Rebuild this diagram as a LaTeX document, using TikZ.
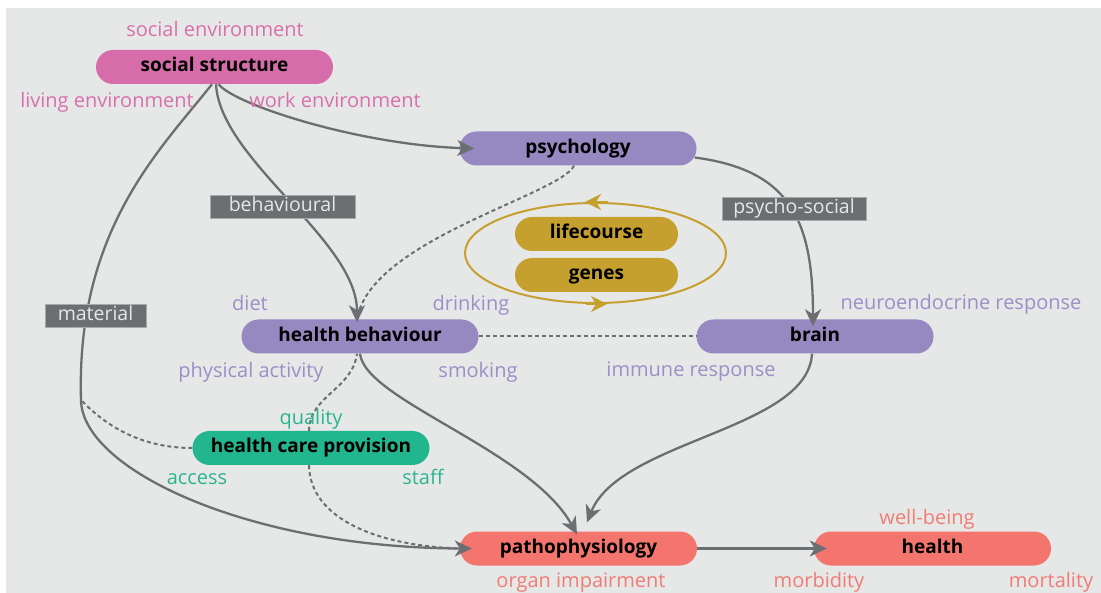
\documentclass[tikz,border=0pt]{standalone}
\usepackage{fontspec}
\setmainfont{Open Sans}
\usetikzlibrary{arrows.meta,shapes.geometric}
\definecolor{bg}{HTML}{E6E7E7}
\definecolor{pk}{HTML}{D66CAA}
\definecolor{pkt}{HTML}{D870AC}
\definecolor{pu}{HTML}{9689C2}
\definecolor{put}{HTML}{9C8FC7}
\definecolor{gd}{HTML}{C6A02E}
\definecolor{gn}{HTML}{22B68E}
\definecolor{gnt}{HTML}{2BB58E}
\definecolor{sa}{HTML}{F3756D}
\definecolor{sat}{HTML}{F07C74}
\definecolor{ln}{HTML}{6D6E71}
\begin{document}
\begin{tikzpicture}[x=1pt,y=-1pt,
  box/.style={rounded corners=17pt, minimum width=237pt, minimum height=34pt, inner sep=0pt,
    font=\fontsize{19}{22}\selectfont\bfseries, text height=14pt, text depth=4.5pt},
  lbl/.style={fill=ln, draw=ln!60, line width=0.6pt, text=bg, minimum height=23pt, inner sep=0pt,
    font=\fontsize{19.5}{22}\selectfont, text height=14pt, text depth=4.5pt},
  lab/.style={anchor=base, inner sep=0pt, font=\fontsize{20}{23}\selectfont},
  arr/.style={draw=ln, line width=2.3pt, -{Stealth[length=17pt,width=16pt,inset=5pt]}},
  dsh/.style={draw=ln, line width=2pt, dash pattern=on 4pt off 3pt},
  garr/.style={draw=gd, line width=2pt, -{Stealth[length=16pt,width=16pt,inset=5pt]}}
]
\useasboundingbox (0,0) rectangle (1101,593);
\fill[bg] (6,8) rectangle (1101,593);

% nodes
\node[box,fill=pk] (ss) at (214.5,67) {social structure};
\node[box,fill=pu] (psy) at (578,148.5) {psychology};
\node[draw=gd, line width=2pt, ellipse, minimum width=261pt, minimum height=100pt, inner sep=0pt] (cyc) at (595.5,253) {};
\node[box,fill=gd,minimum width=163pt] (lc) at (596.5,234) {lifecourse};
\node[box,fill=gd,minimum width=163pt] (gns) at (596.5,275) {genes};
\node[box,fill=pu] (hb) at (360,336.5) {health behaviour};
\node[box,fill=pu] (br) at (815,336.5) {brain};
\node[box,fill=gn] (hcp) at (311,448) {health care provision};
\node[box,fill=sa] (pp) at (578.5,548.5) {pathophysiology};
\node[box,fill=sa] (hl) at (932.5,548.5) {health};

% cycle arrows
\draw[garr] ([xshift=12pt]cyc.north) -- ([xshift=-10.5pt]cyc.north);
\draw[garr] ([xshift=-10pt]cyc.south) -- ([xshift=11.5pt]cyc.south);

% connectors
\coordinate (mj) at (81,400);
\draw[arr] ([xshift=4pt]ss.south) .. controls (235,105) and (360,145) .. ([xshift=15pt]psy.west);
\draw[arr] ([xshift=1.5pt]ss.south) .. controls (220,160) and (357,240) .. ([xshift=-3pt,yshift=-3pt]hb.north);
\draw[arr] ([xshift=-2.5pt]ss.south) .. controls (160,150) and (76,230) .. (mj)
   .. controls (82,470) and (250,548) .. ([xshift=12pt]pp.west);
\draw[arr] ([xshift=-2pt,yshift=-9pt]psy.east) .. controls (790,170) and (813,220) .. ([xshift=-2pt,yshift=-7pt]br.north);
\draw[dsh] ([xshift=-4pt]psy.south) .. controls (560,195) and (370,240) .. ([xshift=-3pt]hb.north);
\draw[dsh] (hb.east) -- (br.west);
\draw[arr] (hb.south) .. controls (365,400) and (530,450) .. ([xshift=-1.5pt,yshift=-3pt]pp.north);
\draw[arr] ([xshift=-3pt]br.south) .. controls (808,430) and (620,440) .. ([xshift=8.5pt,yshift=9pt]pp.north);
\draw[dsh] (hcp.west) .. controls (140,448) and (105,425) .. (mj);
\draw[dsh] ([xshift=-2pt]hcp.north) .. controls (310,395) and (352,390) .. ([xshift=-3pt]hb.south);
\draw[dsh] ([xshift=-2pt]hcp.south) .. controls (310,520) and (380,546) .. (pp.west);
\draw[arr] (pp.east) -- ([xshift=13pt]hl.west);

% label boxes
\node[lbl, minimum width=145pt] (lbeh) at (282.5,206.5) {behavioural};
\node[lbl, minimum width=144pt] (lpsy) at (794,208.5) {psycho-social};
\node[lbl, minimum width=101pt] (lmat) at (95.5,315.5) {material};

% text labels
\node[lab, text=pkt] (t1) at (215,37) {social environment};
\node[lab, text=pkt] (t2) at (107,108) {living environment};
\node[lab, text=pkt] (t3) at (335,108) {work environment};
\node[lab, text=put] (t4) at (250,311) {diet};
\node[lab, text=put] (t5) at (471,311) {drinking};
\node[lab, text=put] (t6) at (251,378) {physical activity};
\node[lab, text=put] (t7) at (478,378) {smoking};
\node[lab, text=put] (t8) at (961,310) {neuroendocrine response};
\node[lab, text=put] (t9) at (691,377) {immune response};
\node[lab, text=gnt] (t10) at (311,425) {quality};
\node[lab, text=gnt] (t11) at (197,485) {access};
\node[lab, text=gnt] (t12) at (423,485) {staff};
\node[lab, text=sat] (t13) at (581,587) {organ impairment};
\node[lab, text=sat] (t14) at (927,524) {well-being};
\node[lab, text=sat] (t15) at (819,587) {morbidity};
\node[lab, text=sat] (t16) at (1051,587) {mortality};
\end{tikzpicture}
\end{document}
